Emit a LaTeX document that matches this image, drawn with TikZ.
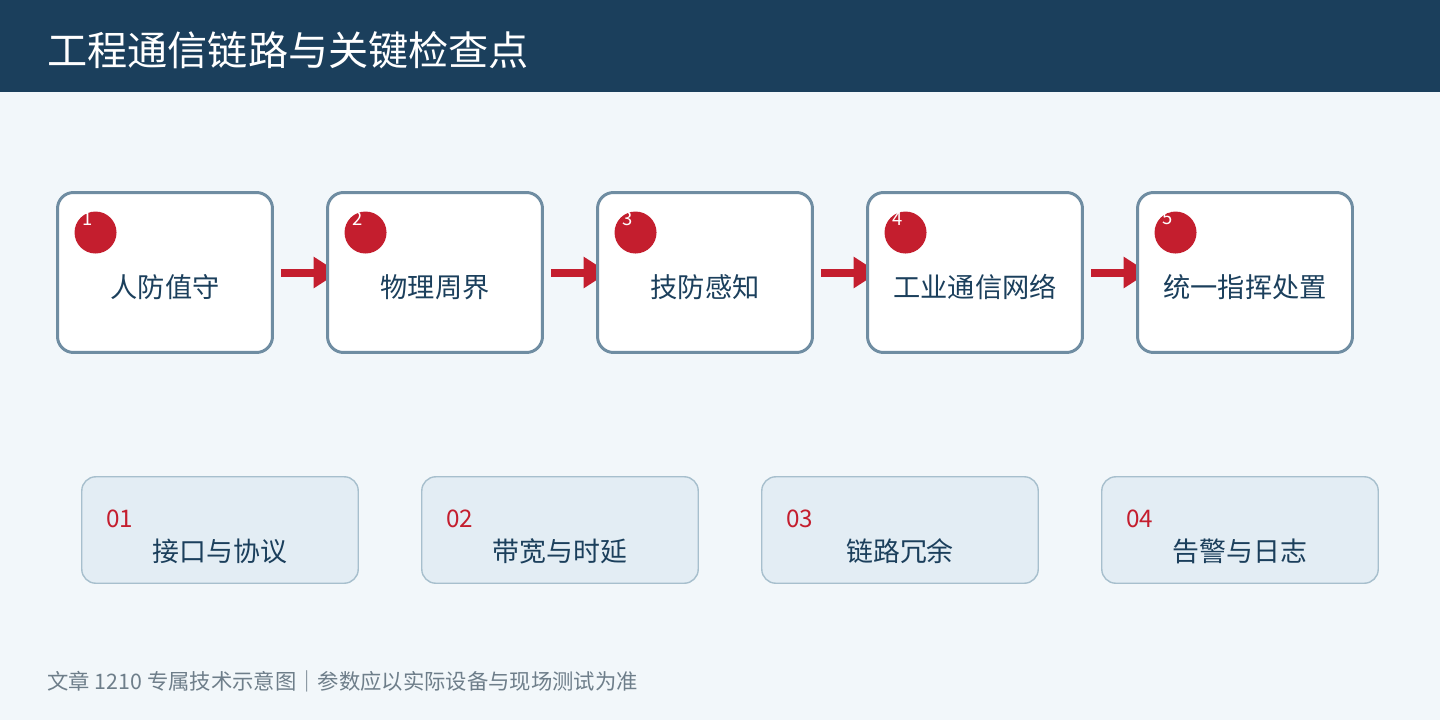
\documentclass[tikz,border=0pt]{standalone}
\usepackage{fontspec}
\setmainfont{Noto Sans CJK SC}
\usetikzlibrary{arrows.meta,calc}
\definecolor{headblue}{HTML}{1B3F5C}
\definecolor{pagebg}{HTML}{F2F7FA}
\definecolor{stepline}{HTML}{6F8DA2}
\definecolor{alarmred}{HTML}{C41E2E}
\definecolor{checkfill}{HTML}{E3EDF4}
\definecolor{checkline}{HTML}{A7BFCD}
\definecolor{notegray}{HTML}{6E7E8A}
\pgfdeclarelayer{page}
\pgfdeclarelayer{arrows}
\pgfsetlayers{page,arrows,main}
\tikzset{
	stepbox/.style={draw=stepline,line width=1.7pt,fill=white,rounded corners=0.32cm,
		minimum width=4.3cm,minimum height=3.2cm},
	steptext/.style={text=headblue,font=\fontsize{15.5}{18}\selectfont},
	stepdot/.style={circle,fill=alarmred,minimum size=0.84cm,inner sep=0pt},
	stepnum/.style={text=white,font=\fontsize{10.5}{12}\selectfont,inner sep=0pt},
	flowarrow/.style={draw=alarmred,line width=0.16cm,-{Triangle[length=0.5cm,width=0.6cm]},
		shorten <=0.15cm,shorten >=-0.25cm},
	checkbox/.style={draw=checkline,line width=0.8pt,fill=checkfill,rounded corners=0.28cm,
		minimum width=5.53cm,minimum height=2.13cm},
	checknum/.style={text=alarmred,font=\fontsize{13.8}{16}\selectfont,anchor=west,inner sep=0pt},
	checktext/.style={text=headblue,font=\fontsize{15.3}{18}\selectfont}
}
\begin{document}
\begin{tikzpicture}[x=0.02cm,y=-0.02cm]
	\useasboundingbox (0,0) rectangle (1440,720);
	\begin{pgfonlayer}{page}
		\fill[pagebg] (0,0) rectangle (1440,720);
		\fill[headblue] (0,0) rectangle (1440,92);
	\end{pgfonlayer}
	\node[anchor=west,text=white,inner sep=0pt,font=\fontsize{22.85}{26}\selectfont] (title) at (47,50) {工程通信链路与关键检查点};
	% upper chain of steps
	\foreach \i/\txt in {1/人防值守,2/物理周界,3/技防感知,4/工业通信网络,5/统一指挥处置}{
		\node[stepbox] (s\i) at ({165+270*(\i-1)},272.5) {};
		\node[steptext] (t\i) at ($(s\i.center)+(0,15)$) {\txt};
		\node[stepdot] (d\i) at ($(s\i.north west)+(39.5,41.5)$) {};
		\node[stepnum] (n\i) at ($(d\i.center)+(-8,-14)$) {\i};
	}
	\begin{pgfonlayer}{arrows}
		\foreach \i [evaluate=\i as \j using int(\i+1)] in {1,...,4}
			\draw[flowarrow] (s\i.east) -- (s\j.west);
	\end{pgfonlayer}
	% lower check points
	\foreach \i/\txt in {1/接口与协议,2/带宽与时延,3/链路冗余,4/告警与日志}{
		\node[checkbox] (c\i) at ({220+340*(\i-1)},530) {};
		\node[checknum] (k\i) at ($(c\i.west)+(25,-11)$) {0\i};
		\node[checktext] (l\i) at ($(c\i.center)+(0,21)$) {\txt};
	}
	\node[anchor=west,text=notegray,inner sep=0pt,font=\fontsize{12.15}{15}\selectfont] (note) at (47,681)
		{文章 1210 专属技术示意图｜参数应以实际设备与现场测试为准};
\end{tikzpicture}
\end{document}
